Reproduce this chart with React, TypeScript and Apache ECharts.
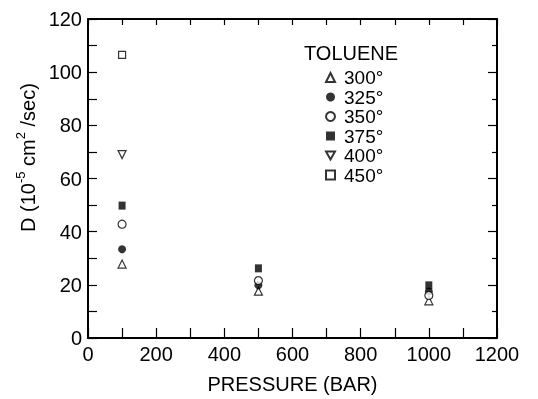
import React, { useEffect, useRef } from "react";
import * as echarts from "echarts";

const pressures = [100, 500, 1000];
const temps = ["300°", "325°", "350°", "375°", "400°", "450°"];
const d300 = [27.8, 17.6, 14.0];
const d325 = [33.4, 19.8, 17.5];
const d350 = [42.8, 21.6, 16.0];
const d375 = [49.8, 26.2, 19.8];
const d400: (number | null)[] = [69.0, null, null];
const d450: (number | null)[] = [106.5, null, null];
const xTicks = [0, 200, 400, 600, 800, 1000, 1200];
const yTicks = [0, 20, 40, 60, 80, 100, 120];

const FONT = "'Liberation Sans', sans-serif";
const downTri = "path://M0,0 L10,0 L5,9 Z";

export default function App() {
  const ref = useRef<HTMLDivElement>(null);
  useEffect(() => {
    if (!ref.current) return;
    const chart = echarts.init(ref.current, undefined, { renderer: "svg" });
    const open = { color: "#fff", borderColor: "#000", borderWidth: 1.2 };
    const filled = { color: "#000", borderColor: "#000", borderWidth: 0 };
    const defs = [
      { data: d300, symbol: "triangle", style: open, size: 8 },
      { data: d325, symbol: "circle", style: filled, size: 8 },
      { data: d350, symbol: "circle", style: open, size: 8 },
      { data: d375, symbol: "rect", style: filled, size: [7, 8] },
      { data: d400, symbol: downTri, style: open, size: 8 },
      { data: d450, symbol: "rect", style: open, size: 7 },
    ];
    const series = defs.map((d, i) => ({
      name: temps[i],
      type: "scatter",
      symbol: d.symbol,
      symbolSize: d.size,
      itemStyle: d.style,
      data: pressures
        .map((p, j) => [p, d.data[j]])
        .filter((v) => v[1] !== null),
    }));
    const axisLine = { show: true, onZero: false, lineStyle: { color: "#000", width: 2 } };
    const labelStyle = { color: "#000", fontFamily: FONT, fontSize: 20 };
    const tick = (len: number) => ({
      show: true,
      inside: true,
      length: len,
      lineStyle: { color: "#000", width: 1.2 },
    });
    const minor = (len: number) => ({
      show: true,
      splitNumber: 2,
      length: len,
      lineStyle: { color: "#000", width: 1.2 },
    });
    chart.setOption({
      animation: false,
      grid: { left: 88, right: 41, top: 19, bottom: 57 },
      xAxis: [
        {
          type: "value",
          min: 0,
          max: 1200,
          interval: 200,
          position: "bottom",
          axisLine,
          splitLine: { show: false },
          axisTick: tick(10),
          minorTick: minor(10),
          axisLabel: {
            ...labelStyle,
            margin: 6,
            formatter: (v: number) => (xTicks.includes(v) ? String(v) : ""),
          },
          name: "PRESSURE (BAR)",
          nameLocation: "middle",
          nameGap: 36,
          nameTextStyle: { ...labelStyle },
        },
        {
          type: "value",
          min: 0,
          max: 1200,
          interval: 200,
          position: "top",
          axisLine,
          splitLine: { show: false },
          axisTick: tick(6),
          minorTick: minor(6),
          axisLabel: { show: false },
        },
      ],
      yAxis: [
        {
          type: "value",
          min: 0,
          max: 120,
          interval: 20,
          position: "left",
          axisLine,
          splitLine: { show: false },
          axisTick: tick(9),
          minorTick: minor(9),
          axisLabel: {
            ...labelStyle,
            margin: 6,
            formatter: (v: number) => (yTicks.includes(v) ? String(v) : ""),
          },
        },
        {
          type: "value",
          min: 0,
          max: 120,
          interval: 20,
          position: "right",
          axisLine,
          splitLine: { show: false },
          axisTick: tick(9),
          minorTick: minor(5),
          axisLabel: { show: false },
        },
      ],
      legend: {
        orient: "vertical",
        left: 320,
        top: 63,
        itemWidth: 9,
        itemHeight: 9,
        itemGap: 0.5,
        textStyle: { ...labelStyle, fontSize: 19, lineHeight: 19, padding: [0, 0, 0, 4] },
        data: temps,
      },
      graphic: [
        {
          type: "text",
          left: 304,
          top: 43,
          style: { text: "TOLUENE", fill: "#000", fontFamily: FONT, fontSize: 20 },
        },
        {
          type: "text",
          x: 14,
          y: 232,
          rotation: Math.PI / 2,
          style: {
            text: "{n|D (10}{s|-5}{n| cm}{s|2}{n| /sec)}",
            fill: "#000",
            rich: {
              n: { fontFamily: FONT, fontSize: 20, fill: "#000", verticalAlign: "bottom", lineHeight: 24 },
              s: { fontFamily: FONT, fontSize: 13, fill: "#000", verticalAlign: "top", lineHeight: 24 },
            },
          },
        },
      ],
      series,
    });
    return () => chart.dispose();
  }, []);
  return (
    <div
      ref={ref}
      style={{ position: "fixed", left: 0, top: 0, width: 538, height: 399 }}
    />
  );
}
